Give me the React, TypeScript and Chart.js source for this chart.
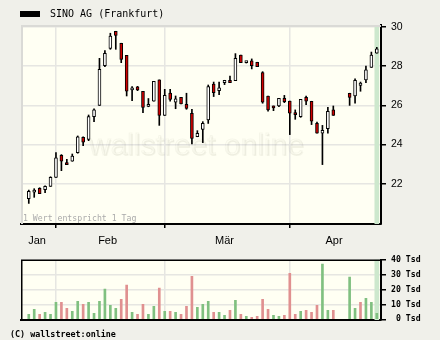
import React, { useEffect, useRef } from "react";
import { Chart, registerables } from "chart.js";

Chart.register(...registerables);

// ---- data (one slot per trading day, 25.01. – 25.04.; null = no trading) ----
const openV: (number | null)[] = [
  21.24, 21.57, 21.77, 21.70, 21.87, 22.33, 23.45, 23.04, 23.15, 23.59,
  24.37, 24.27, 25.43, 26.00, 28.03, 28.91, 29.78, 29.17, 28.55, 26.79,
  26.94, 26.72, 25.95, 26.21, 27.30, 25.49, 26.63, 26.17, 26.41, 26.05,
  25.60, 24.40, 24.78, 25.26, 27.09, 26.75, 27.16, 27.28, 27.26, 28.57,
  28.18, 28.27, 28.20, 27.67, 26.48, 25.97, 25.97, 26.36, 26.22, 25.60,
  25.43, 26.41, 26.21, 25.09, 24.58, 24.81, 25.77, null, null, 26.62,
  26.48, 27.02, 27.30, 27.94, 28.66,
];
const highV: (number | null)[] = [
  21.68, 21.75, 21.80, 21.90, 22.36, 23.59, 23.49, 23.25, 23.52, 24.44,
  24.40, 25.51, 25.83, 28.40, 28.79, 29.68, 29.78, 29.17, 28.55, 26.96,
  26.97, 26.72, 26.35, 27.23, 27.30, 26.82, 26.82, 26.48, 26.41, 26.62,
  25.80, 24.71, 25.17, 27.04, 27.19, 27.19, 27.28, 27.50, 28.64, 28.57,
  28.24, 28.37, 28.20, 27.72, 26.48, 25.97, 26.36, 26.51, 26.22, 25.77,
  26.31, 26.48, 26.21, 25.15, 24.98, 25.90, 25.97, null, null, 26.62,
  27.36, 27.19, 28.01, 28.72, 28.96,
];
const lowV: (number | null)[] = [
  21.00, 21.31, 21.50, 21.55, 21.87, 22.33, 22.67, 22.98, 23.15, 23.56,
  23.95, 24.20, 25.17, 26.00, 27.98, 28.86, 28.86, 28.18, 26.48, 26.24,
  26.75, 25.63, 25.93, 26.21, 24.98, 25.49, 26.21, 25.83, 26.07, 25.80,
  24.03, 24.40, 24.10, 25.08, 26.45, 26.55, 27.06, 27.16, 27.26, 28.18,
  28.16, 27.86, 27.98, 26.11, 25.70, 25.73, 25.94, 26.14, 24.51, 25.29,
  25.39, 26.04, 25.02, 24.58, 22.98, 24.58, 25.49, null, null, 26.00,
  26.11, 26.72, 27.16, 27.94, 28.66,
];
const closeV: (number | null)[] = [
  21.62, 21.68, 21.50, 21.87, 22.33, 23.32, 23.15, 22.98, 23.42, 24.40,
  24.13, 25.43, 25.77, 27.84, 28.66, 29.54, 29.57, 28.35, 26.72, 26.89,
  26.79, 25.90, 26.00, 27.23, 25.49, 26.51, 26.31, 26.33, 26.07, 25.85,
  24.32, 24.58, 25.08, 26.96, 26.65, 26.89, 27.28, 27.16, 28.40, 28.18,
  28.22, 28.03, 27.98, 26.16, 25.77, 25.87, 26.36, 26.19, 25.60, 25.53,
  26.31, 26.21, 25.19, 24.58, 24.73, 25.70, 25.49, null, null, 26.41,
  27.28, 27.14, 27.81, 28.57, 28.89,
];
// volume in thousand shares (Tsd)
const volumeV: (number | null)[] = [
  3.4, 6.8, 3.4, 4.7, 3.4, 11.5, 11.5, 7.4, 5.4, 12.2,
  10.1, 11.5, 4.1, 12.2, 20.3, 9.5, 7.4, 13.5, 23.0, 4.7,
  3.4, 10.1, 3.4, 8.8, 21.0, 5.4, 5.4, 4.7, 3.4, 8.8,
  29.0, 8.1, 10.1, 12.2, 4.7, 4.7, 2.7, 6.1, 12.8, 3.4,
  2.0, 1.4, 2.0, 13.5, 6.8, 2.7, 2.0, 2.7, 31.0, 3.4,
  5.4, 6.1, 4.7, 9.5, 37.2, 6.1, 6.1, null, null, 28.4,
  7.4, 11.5, 14.2, 11.5, 4.1,
];

const monthLabels = ["Jan", "Feb", "Mär", "Apr"];
const monthStartSlots = [5, 25, 48]; // first trading day of Feb, Mär, Apr
const priceTicks = [22, 24, 26, 28, 30];
const volumeTicks = [0, 10, 20, 30, 40];

const X_MIN = -1.43;
const X_MAX = 64.77;
const Y_MIN = 19.95;
const Y_MAX = 30.1;
const V_MIN = -0.45;
const V_MAX = 40.3;

const PAGE_BG = "#f0f0ea";
const PLOT_BG = "#fffff3";
const GRID = "#e6e6e2";
const UP_FILL = "#ffffff";
const DOWN_FILL = "#d00000";
const VOL_UP = "#80c080";
const VOL_DOWN = "#e09090";
const HIGHLIGHT = "#cde8cd";

const lastSlot = (() => {
  for (let i = closeV.length - 1; i >= 0; i--) if (closeV[i] != null) return i;
  return 0;
})();

const bounds = [X_MIN, ...monthStartSlots.map((s) => s - 0.5), X_MAX];
const monthCenters = monthLabels.map((_, i) => (bounds[i] + bounds[i + 1]) / 2);
const isStart = (v: number) => monthStartSlots.includes(v);

function plotFrame(fill: string, lineColor: string, lineWidth: number, withBg = true) {
  return {
    id: "plotFrame",
    beforeDraw(chart: any) {
      if (!withBg) return;
      const { ctx, chartArea } = chart;
      const { left, top, right, bottom } = chartArea;
      ctx.save();
      ctx.fillStyle = fill;
      ctx.fillRect(left, top, right - left, bottom - top);
      ctx.restore();
    },
    afterDraw(chart: any) {
      const { ctx, chartArea } = chart;
      const { left, top, right, bottom } = chartArea;
      ctx.save();
      ctx.strokeStyle = lineColor;
      ctx.lineWidth = lineWidth;
      ctx.beginPath();
      ctx.moveTo(left + lineWidth / 2, bottom);
      ctx.lineTo(left + lineWidth / 2, top + lineWidth / 2);
      ctx.lineTo(right, top + lineWidth / 2);
      ctx.stroke();
      ctx.restore();
    },
  };
}

const watermark = {
  id: "watermark",
  beforeDatasetsDraw(chart: any) {
    const { ctx, chartArea } = chart;
    ctx.save();
    ctx.beginPath();
    ctx.rect(chartArea.left, chartArea.top, chartArea.right - chartArea.left, chartArea.bottom - chartArea.top);
    ctx.clip();
    ctx.font = '30px "Liberation Sans", Arial, sans-serif';
    ctx.textBaseline = "alphabetic";
    ctx.fillStyle = "rgba(80,80,60,0.05)";
    ctx.fillText("wallstreet online", chartArea.left + 69, chartArea.top + 131);
    ctx.strokeStyle = "rgba(80,80,60,0.05)";
    ctx.lineWidth = 1;
    ctx.strokeText("wallstreet online", chartArea.left + 68, chartArea.top + 130);
    ctx.restore();
  },
};

export default function App() {
  const mainRef = useRef<HTMLCanvasElement | null>(null);
  const volRef = useRef<HTMLCanvasElement | null>(null);

  useEffect(() => {
    const bodies: any[] = [];
    const bodyColors: string[] = [];
    const wicks: any[] = [];
    const vols: any[] = [];
    const volColors: string[] = [];
    let prevClose: number | null = null;
    for (let i = 0; i < closeV.length; i++) {
      const o = openV[i], c = closeV[i], h = highV[i], l = lowV[i], v = volumeV[i];
      if (o == null || c == null || h == null || l == null) continue;
      bodies.push({ x: i, y: [Math.min(o, c), Math.max(o, c)] });
      bodyColors.push(c >= o ? UP_FILL : DOWN_FILL);
      wicks.push({ x: i, y: [l, h] });
      if (v != null) {
        vols.push({ x: i, y: v });
        volColors.push(prevClose == null || c >= prevClose ? VOL_UP : VOL_DOWN);
      }
      prevClose = c;
    }

    const xTicks = [...monthStartSlots, ...monthCenters].sort((a, b) => a - b);

    const main = new Chart(mainRef.current as HTMLCanvasElement, {
      type: "bar",
      data: {
        datasets: [
          {
            data: bodies,
            backgroundColor: bodyColors,
            borderColor: "#000",
            borderWidth: 1,
            borderSkipped: false,
            barThickness: 3,
            minBarLength: 2,
            grouped: false,
            order: 0,
          } as any,
          {
            data: wicks,
            backgroundColor: "#000",
            borderWidth: 0,
            barThickness: 1,
            grouped: false,
            order: 1,
          } as any,
          {
            data: [{ x: lastSlot, y: [Y_MIN, Y_MAX] }],
            backgroundColor: HIGHLIGHT,
            borderWidth: 0,
            barThickness: 4,
            grouped: false,
            order: 2,
          } as any,
        ],
      },
      options: {
        responsive: false,
        animation: false,
        events: [],
        layout: { padding: { left: 21, top: 25, right: 0, bottom: 0 } },
        plugins: { legend: { display: false }, tooltip: { enabled: false } },
        scales: {
          x: {
            type: "linear",
            min: X_MIN,
            max: X_MAX,
            offset: false,
            afterBuildTicks: (s: any) => {
              s.ticks = xTicks.map((v) => ({ value: v }));
            },
            afterFit: (s: any) => {
              s.height = 26;
            },
            grid: {
              offset: false,
              color: (c: any) => (c.tick && isStart(c.tick.value) ? GRID : "rgba(0,0,0,0)"),
              tickColor: (c: any) => (c.tick && isStart(c.tick.value) ? "#000" : "rgba(0,0,0,0)"),
              tickLength: 4,
              lineWidth: 1.5,
            },
            border: { color: "#000", width: 2 },
            ticks: {
              autoSkip: false,
              maxRotation: 0,
              minRotation: 0,
              padding: 6,
              color: "#000",
              font: { family: '"Liberation Sans", Arial, sans-serif', size: 11 },
              callback: (v: any) => {
                const k = monthCenters.indexOf(Number(v));
                return k >= 0 ? monthLabels[k] : "";
              },
            },
          } as any,
          y: {
            type: "linear",
            position: "right",
            min: Y_MIN,
            max: Y_MAX,
            afterBuildTicks: (s: any) => {
              s.ticks = priceTicks.map((v) => ({ value: v }));
            },
            afterFit: (s: any) => {
              s.width = 59;
            },
            grid: { color: GRID, tickColor: "#000", tickLength: 5, lineWidth: 1.5 },
            border: { color: "#000", width: 2 },
            ticks: {
              padding: 5,
              color: "#000",
              font: { family: '"Liberation Sans", Arial, sans-serif', size: 10.5 },
            },
          } as any,
        },
      },
      plugins: [plotFrame(PLOT_BG, "#dadad6", 2), watermark],
    });

    const vol = new Chart(volRef.current as HTMLCanvasElement, {
      type: "bar",
      data: {
        datasets: [
          {
            data: vols,
            backgroundColor: volColors,
            borderWidth: 0,
            barThickness: 2,
            grouped: false,
            order: 0,
          } as any,
          {
            data: [{ x: lastSlot, y: [V_MIN, V_MAX] }],
            backgroundColor: HIGHLIGHT,
            borderWidth: 0,
            barThickness: 4,
            grouped: false,
            order: 1,
          } as any,
        ],
      },
      options: {
        responsive: false,
        animation: false,
        events: [],
        layout: { padding: { left: 21, top: 14.5, right: 0, bottom: 20 } },
        plugins: { legend: { display: false }, tooltip: { enabled: false } },
        scales: {
          x: {
            type: "linear",
            min: X_MIN,
            max: X_MAX,
            offset: false,
            afterBuildTicks: (s: any) => {
              s.ticks = monthStartSlots.map((v) => ({ value: v }));
            },
            afterFit: (s: any) => {
              s.height = 0;
            },
            grid: { offset: false, color: GRID, drawTicks: false, lineWidth: 1.5 },
            border: { color: "#000", width: 2 },
            ticks: { display: false },
          } as any,
          y: {
            type: "linear",
            position: "right",
            min: V_MIN,
            max: V_MAX,
            afterBuildTicks: (s: any) => {
              s.ticks = volumeTicks.map((v) => ({ value: v }));
            },
            afterFit: (s: any) => {
              s.width = 59;
            },
            grid: { color: GRID, tickColor: "#000", tickLength: 5, lineWidth: 1.5 },
            border: { color: "#000", width: 2 },
            ticks: {
              padding: 5,
              crossAlign: "near",
              color: "#000",
              font: { family: '"DejaVu Sans Mono", monospace', size: 8.2, weight: "bold" },
              callback: (v: any) => `${String(v).padStart(2, " ")} Tsd`,
            },
          } as any,
        },
      },
      plugins: [plotFrame(PLOT_BG, "#000", 1.5)],
    });

    return () => {
      main.destroy();
      vol.destroy();
    };
  }, []);

  const mono = '"DejaVu Sans Mono", monospace';
  return (
    <div
      style={{
        position: "fixed",
        left: 0,
        top: 0,
        width: 440,
        height: 340,
        background: PAGE_BG,
        overflow: "hidden",
      }}
    >
      <canvas ref={mainRef} width={440} height={250} style={{ position: "absolute", left: 0, top: 0 }} />
      <canvas ref={volRef} width={440} height={95} style={{ position: "absolute", left: 0, top: 245 }} />
      <div style={{ position: "absolute", left: 20, top: 11, width: 20, height: 6, background: "#000" }} />
      <div
        style={{
          position: "absolute",
          left: 50,
          top: 8,
          font: `10px ${mono}`,
          lineHeight: "12px",
          color: "#000",
          whiteSpace: "nowrap",
        }}
      >
        SINO AG (Frankfurt)
      </div>
      <div
        style={{
          position: "absolute",
          left: 23,
          top: 213,
          font: `8.2px ${mono}`,
          lineHeight: "10px",
          color: "#aaaaaa",
          whiteSpace: "nowrap",
        }}
      >
        1 Wert entspricht 1 Tag
      </div>
      <div
        style={{
          position: "absolute",
          left: 10,
          top: 329,
          font: `bold 8.4px ${mono}`,
          lineHeight: "10px",
          color: "#000",
          whiteSpace: "nowrap",
        }}
      >
        (C) wallstreet:online
      </div>
    </div>
  );
}
